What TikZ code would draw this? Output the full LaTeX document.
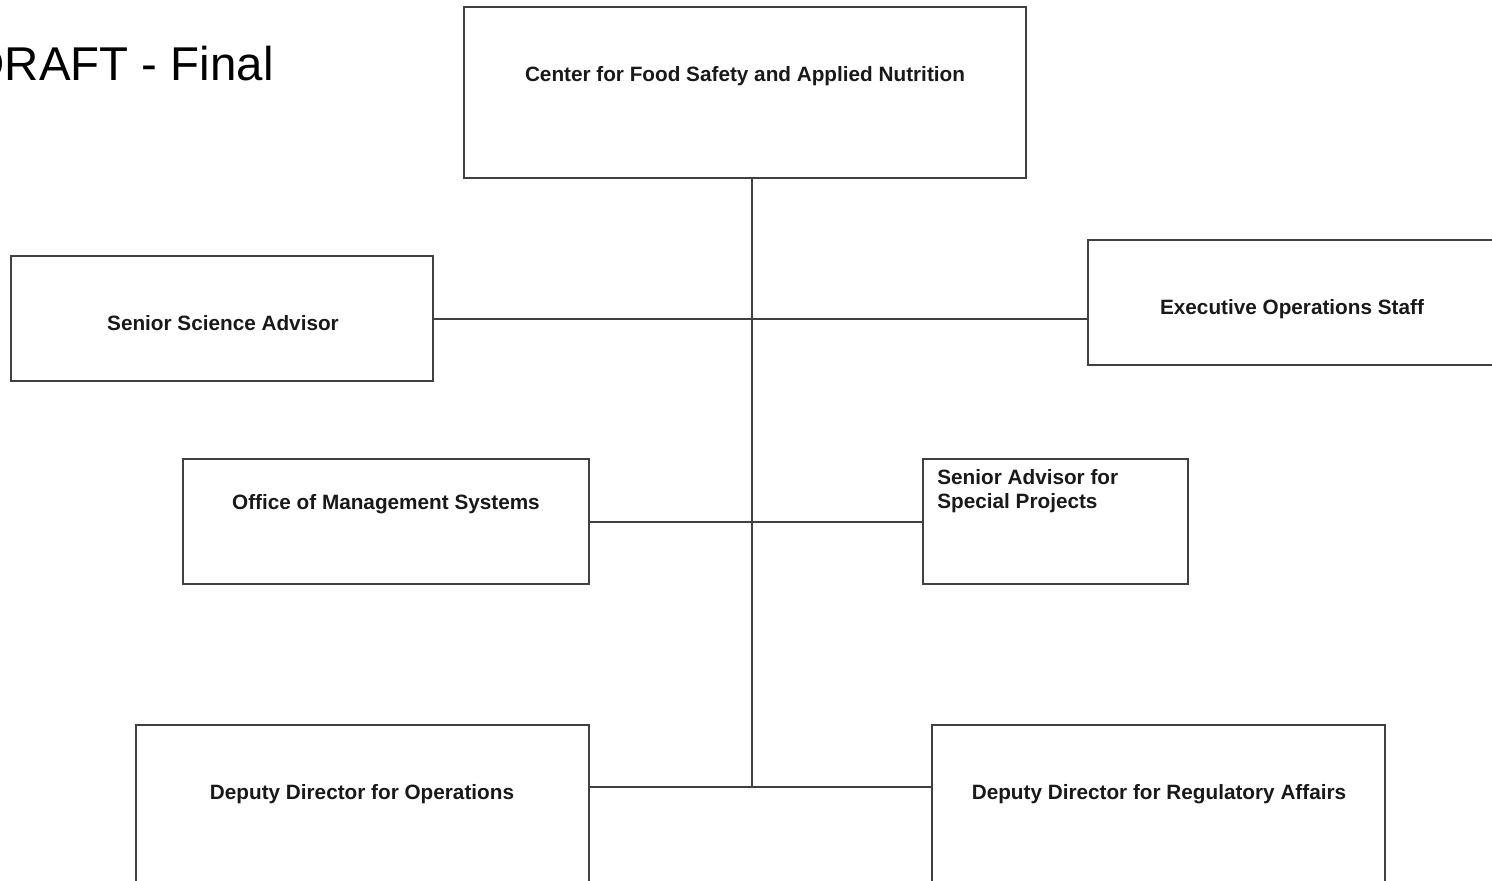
\documentclass[tikz,border=0pt]{standalone}
\usepackage{fontspec}
\setmainfont{Liberation Sans}
\usetikzlibrary{fit}

\tikzset{
    orgbox/.style = {draw = black!75, line width = 1pt, inner sep = 0pt},
    orgtext/.style = {font = \bfseries\fontsize{11.8}{13.6}\selectfont, text = black!90, inner sep = 0pt},
    orgline/.style = {draw = black!75, line width = 1pt}
}

\begin{document}
\begin{tikzpicture}[x = 0.02cm, y = -0.02cm]
            \useasboundingbox (0, 0) rectangle (1492, 880);

            \node[anchor = base east, inner sep = 0pt, font = \fontsize{27}{32}\selectfont] (draft) at (274, 80) {DRAFT - Final};

            % boxes
            \node[orgbox, fit = {(464, 7) (1026, 178)}] (cfsan) {};
            \node[orgbox, fit = {(11, 256) (433, 381)}] (ssa) {};
            \node[orgbox, fit = {(1088, 240) (1520, 365)}] (eos) {};
            \node[orgbox, fit = {(183, 459) (589, 584)}] (oms) {};
            \node[orgbox, fit = {(923, 459) (1188, 584)}] (sasp) {};
            \node[orgbox, fit = {(136, 725) (589, 900)}] (ddo) {};
            \node[orgbox, fit = {(932, 725) (1385, 900)}] (ddra) {};

            % texts
            \node[orgtext, anchor = base] (cfsanT) at (745, 81) {Center for Food Safety and Applied Nutrition};
            \node[orgtext, anchor = base] (ssaT) at (223, 330) {Senior Science Advisor};
            \node[orgtext, anchor = base] (eosT) at (1292, 314) {Executive Operations Staff};
            \node[orgtext, anchor = base] (omsT) at (386, 509) {Office of Management Systems};
            \node[orgtext, anchor = north west, align = left] (saspT) at (937, 469) {Senior Advisor for\\Special Projects};
            \node[orgtext, anchor = base] (ddoT) at (362, 799) {Deputy Director for Operations};
            \node[orgtext, anchor = base] (ddraT) at (1159, 799) {Deputy Director for Regulatory Affairs};

            % joints on the trunk
            \coordinate (j1) at (752, 319);
            \coordinate (j2) at (752, 522);
            \coordinate (j3) at (752, 787);

            \draw[orgline] (cfsan.south -| j1) -- (j3);
            \draw[orgline] (ssa.east |- j1) -- (eos.west |- j1);
            \draw[orgline] (oms.east |- j2) -- (sasp.west |- j2);
            \draw[orgline] (ddo.east |- j3) -- (ddra.west |- j3);

        \end{tikzpicture}
\end{document}
